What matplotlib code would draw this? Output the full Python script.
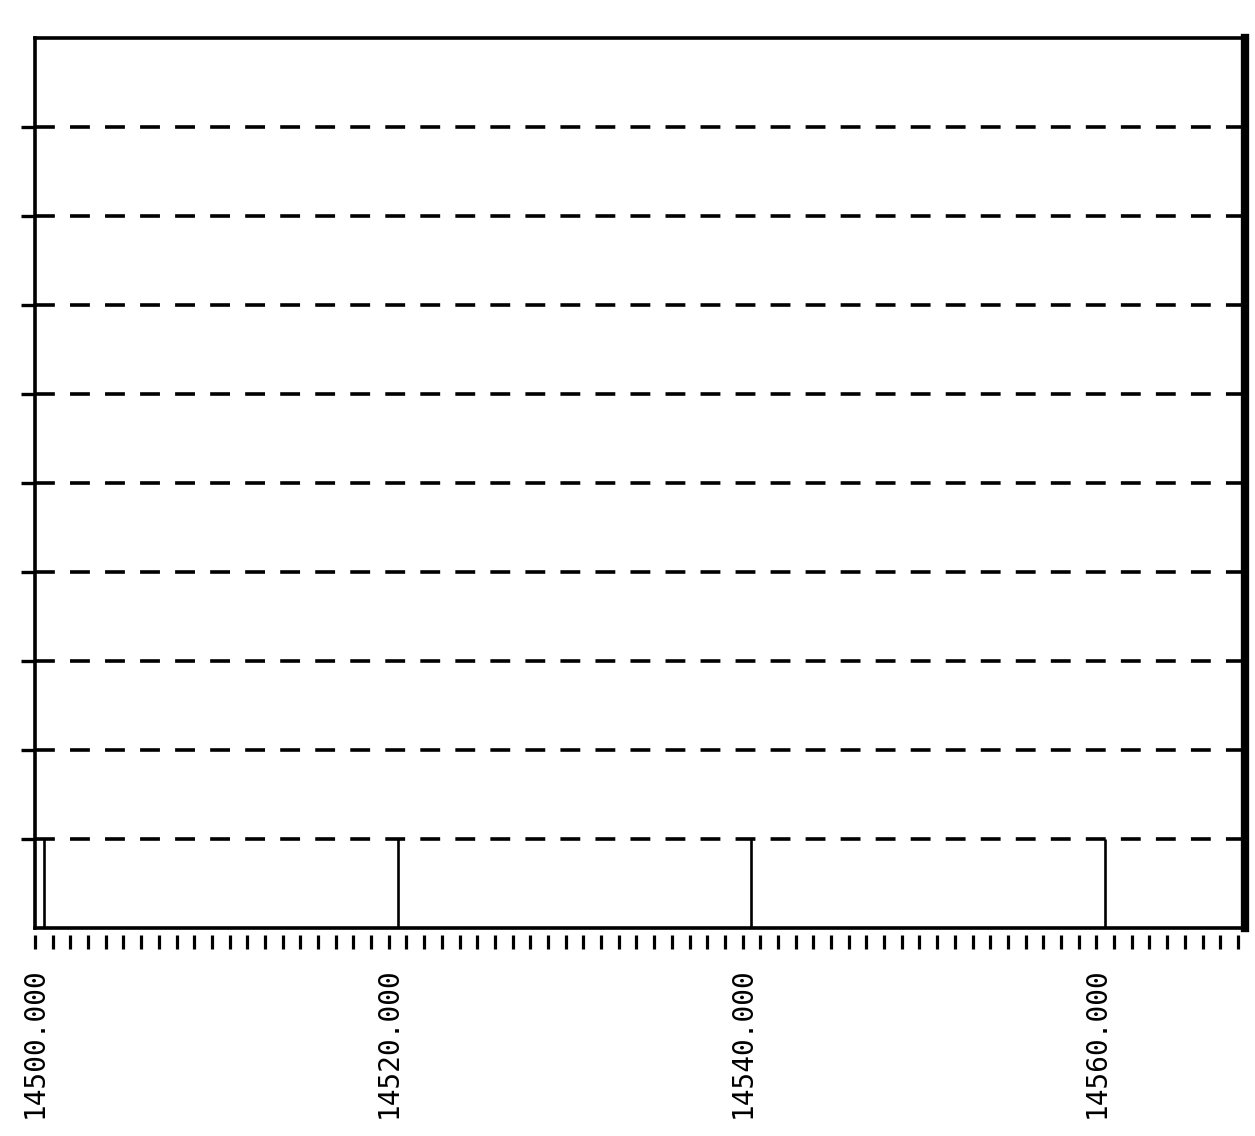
import numpy as np
import matplotlib
matplotlib.use("Agg")
import matplotlib.pyplot as plt
from matplotlib import font_manager

# data
bar_x = [14500.5, 14520.5, 14540.5, 14560.5]
bar_h = [1, 1, 1, 1]
label_x = [14500, 14520, 14540, 14560]
label_txt = ["14500.000", "14520.000", "14540.000", "14560.000"]
grid_y = [1, 2, 3, 4, 5, 6, 7, 8, 9]
x_min, x_max = 14500, 14568.4
y_min, y_max = 0, 10

# narrow plotter-like font if there is one
names = set(f.name for f in font_manager.fontManager.ttflist)
if "Liberation Sans Narrow" in names:
    lab_font, lab_size = "Liberation Sans Narrow", 27.5
else:
    lab_font, lab_size = "DejaVu Sans Mono", 20
print(lab_font)

fig = plt.figure(figsize=(12.55, 11.36), dpi=100)
ax = fig.add_axes([0.0279, 0.183, 0.9641, 0.7835])

# dashed horizontal lines
for g in grid_y:
    ax.axhline(g, color="black", lw=2.6, linestyle=(0, (5.5, 4.2)), zorder=1)

# the spikes
ax.vlines(bar_x, 0, bar_h, color="black", lw=1.9, zorder=2)

ax.set_xlim(x_min, x_max)
ax.set_ylim(y_min, y_max)

# y ticks stick out to the left, no labels
ax.set_yticks(grid_y)
ax.set_yticklabels([])
ax.tick_params(axis="y", direction="out", length=10, width=2.4, color="black")

# x labels, rotated
ax.set_xticks(label_x)
ax.set_xticklabels(label_txt, rotation=90, fontsize=lab_size, family=lab_font)
ax.tick_params(axis="x", length=0, pad=28)

# small tick marks below the axis, detached from it
tick_pos = np.arange(14500, 14569, 1)
ax.plot(tick_pos, np.full(len(tick_pos), -0.152), linestyle="none", marker="|",
        markersize=9.5, mew=2.3, color="black", clip_on=False)

for s in ["left", "bottom", "top"]:
    ax.spines[s].set_linewidth(2.6)
ax.spines["right"].set_linewidth(6)

fig.savefig("out.png", dpi=100, facecolor="white")
